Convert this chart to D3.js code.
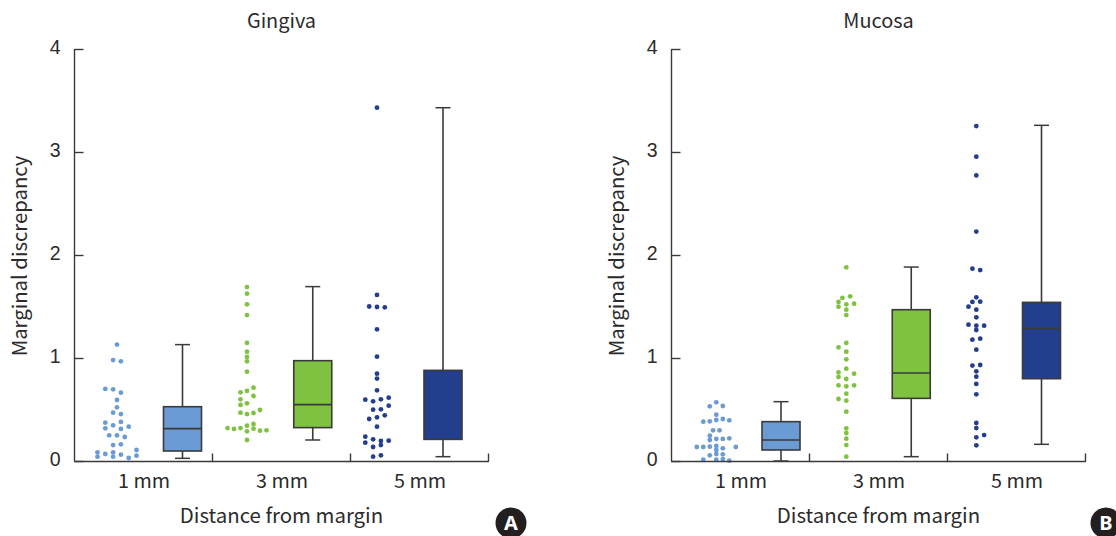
<!DOCTYPE html>
<html><head><meta charset="utf-8">
<script src="https://cdn.jsdelivr.net/npm/d3@7/dist/d3.min.js"></script>
<style>html,body{margin:0;padding:0;background:#fff}svg{display:block}</style>
</head><body><svg id="c" width="1116" height="536"></svg>
<script>
const categories = ["1 mm","3 mm","5 mm"];
const yTicks = [0,1,2,3,4];
const panelTitles = ["Gingiva","Mucosa"];
const panelLetters = ["A","B"];
const yLabel = "Marginal discrepancy";
const xLabel = "Distance from margin";
const colors = ["#6a9bd4","#7fc241","#243e8e"];

// [value, lane]; lanes are beeswarm columns in swarm units
const gingiva1 = [[1.13,0],[.98,-3],[.968,3],[.70,-9],[.696,-3],[.663,3],[.592,0],[.521,0],[.469,-3],[.456,3],[.372,-9],[.379,3],[.346,-3],[.333,9],[.317,-9],[.311,3],[.249,-6],[.249,0],[.233,6],[.155,-3],[.162,3],[.107,15],[.084,-15],[.068,-9],[.084,-3],[.061,3],[.052,15],[.042,-15],[.042,-3],[.029,9]];
const gingiva3 = [[1.689,0],[1.625,0],[1.521,0],[1.417,0],[1.146,0],[1.061,0],[1.01,0],[.968,0],[.867,0],[.712,5],[.68,0],[.667,-5],[.599,-5],[.631,5],[.544,-5],[.56,0],[.495,10],[.469,-5],[.456,0],[.466,5],[.32,-15],[.311,-10],[.32,-5],[.343,0],[.359,5],[.314,5],[.288,0],[.294,10],[.298,15],[.204,0]];
const gingiva5 = [[3.43,0],[1.612,0],[1.50,-6],[1.495,0],[1.492,6],[1.278,0],[1.013,0],[.848,0],[.80,0],[.686,0],[.595,-9],[.579,-3],[.599,3],[.615,9],[.537,9],[.498,-3],[.502,3],[.443,6],[.424,0],[.408,-6],[.333,0],[.236,-9],[.21,-3],[.194,3],[.197,9],[.178,-9],[.155,3],[.136,-3],[.055,3],[.042,-3]];
const mucosa1 = [[.57,0],[.531,-5],[.534,5],[.45,0],[.382,-10],[.385,-5],[.398,0],[.408,5],[.395,10],[.298,-2.5],[.298,2.5],[.246,-5],[.204,-5],[.214,0],[.214,5],[.22,10],[.136,-15],[.136,-10],[.139,-5],[.146,0],[.136,15],[.107,0],[.123,5],[.055,-5],[.068,0],[.065,5],[.013,-10],[.013,0],[.019,5],[.003,10]];
const mucosa3 = [[1.88,0],[1.599,3],[1.583,-3],[1.544,-6],[1.527,6],[1.521,0],[1.498,-6],[1.469,0],[1.417,0],[1.146,0],[1.104,-6],[1.061,0],[.987,0],[.896,0],[.861,-6],[.848,6],[.816,-6],[.796,0],[.735,-6],[.725,0],[.735,6],[.654,0],[.602,-6],[.586,0],[.479,0],[.317,0],[.272,0],[.217,0],[.155,0],[.042,0]];
const mucosa5 = [[3.252,0],[2.955,0],[2.773,0],[2.227,0],[1.867,-3],[1.854,3],[1.589,0],[1.544,-3],[1.547,3],[1.498,-6],[1.469,0],[1.395,0],[1.324,-6],[1.314,0],[1.314,6],[1.272,0],[1.178,-3],[1.188,3],[1.081,0],[.926,-3],[.932,3],[.871,0],[.819,0],[.748,0],[.647,0],[.369,0],[.32,0],[.252,6],[.23,0],[.152,0]];

// [low, q1, median, q3, high]; null median = no line visible in the source
const gingivaBoxes = [[.026,.097,.314,.527,1.13],[.204,.324,.547,.974,1.693],[.042,.21,null,.88,3.43]];
const mucosaBoxes = [[0,.107,.204,.382,.576],[.042,.608,.854,1.469,1.883],[.162,.799,1.288,1.54,3.259]];

const panels = [
 {title:0, dots:[gingiva1,gingiva3,gingiva5], boxes:gingivaBoxes, left:75, dotStart:42, boxStart:107.5},
 {title:1, dots:[mucosa1,mucosa3,mucosa5], boxes:mucosaBoxes, left:672, dotStart:44.3, boxStart:109}
];

const svg = d3.select("#c");
const y = d3.scaleLinear().domain([0,4]).range([461,49]);
const sans = "'Noto Sans CJK KR','Noto Sans',sans-serif";
const arial = "'Liberation Sans',Arial,sans-serif";
const ink = "#3a3a3a";
const textInk = "#2b2b2b";

panels.forEach((p,pi)=>{
  const g = svg.append("g");
  const L = p.left, R = L + 414;
  const xBand = d3.scaleBand().domain(categories).range([L,R]);
  const xDots = d3.scalePoint().domain(categories).range([L+p.dotStart, L+p.dotStart+260]);
  const xBox = d3.scalePoint().domain(categories).range([L+p.boxStart, L+p.boxStart+260.5]);
  const swarm = d3.scaleLinear().domain([0,1]).range([0,1.3]);

  // boxes
  p.boxes.forEach((b,i)=>{
    const cat = categories[i], cx = xBox(cat), hw = 19, cap = 7.5;
    const [lo,q1,med,q3,hi] = b;
    const bg = g.append("g");
    bg.append("line").attr("x1",cx).attr("x2",cx).attr("y1",y(hi)).attr("y2",y(lo)).attr("stroke",ink).attr("stroke-width",1.6);
    [hi,lo].forEach(v=>bg.append("line").attr("x1",cx-cap).attr("x2",cx+cap).attr("y1",y(v)).attr("y2",y(v)).attr("stroke",ink).attr("stroke-width",1.5));
    bg.append("rect").attr("x",cx-hw).attr("width",2*hw).attr("y",y(q3)).attr("height",y(q1)-y(q3)).attr("fill",colors[i]).attr("stroke",ink).attr("stroke-width",1.6);
    if(med!==null) bg.append("line").attr("x1",cx-hw).attr("x2",cx+hw).attr("y1",y(med)).attr("y2",y(med)).attr("stroke",ink).attr("stroke-width",1.6);
  });

  // dots
  p.dots.forEach((arr,i)=>{
    g.append("g").selectAll("circle").data(arr).join("circle")
      .attr("cx",d=>xDots(categories[i])+swarm(d[1]))
      .attr("cy",d=>y(d[0])).attr("r",2.4).attr("fill",colors[i]);
  });

  // axes
  const yAxis = d3.axisLeft(y).tickValues(yTicks).tickSize(-9).tickPadding(14).tickFormat(d3.format("d"));
  const ya = g.append("g").attr("transform",`translate(${L-0.5},0)`).call(yAxis);
  ya.select(".domain").attr("d",`M0,${y(4)}V${y(0)}`).attr("stroke",ink).attr("stroke-width",1.4);
  ya.selectAll(".tick line").attr("stroke",ink).attr("stroke-width",1.4);
  ya.selectAll("text").attr("font-family",arial).attr("font-size",19.5).attr("fill",textInk).attr("dy","0.22em");

  const xAxis = d3.axisBottom(xBand).tickSize(0).tickPadding(12);
  const xa = g.append("g").attr("transform",`translate(0,461.5)`).call(xAxis);
  xa.select(".domain").attr("d",`M${L-1},0H${R}`).attr("stroke",ink).attr("stroke-width",1.4);
  xa.selectAll("text").attr("font-family",sans).attr("font-size",19.8).attr("fill",textInk);
  const sep = [L+138,L+276,L+414];
  g.append("g").selectAll("line").data(sep).join("line")
    .attr("x1",d=>d-0.5).attr("x2",d=>d-0.5).attr("y1",453.5).attr("y2",461.5)
    .attr("stroke",ink).attr("stroke-width",1.4);

  // texts
  g.append("text").attr("x",L+206.5).attr("y",28).attr("text-anchor","middle").attr("font-family",sans).attr("font-size",19.9).attr("fill",textInk).text(panelTitles[p.title]);
  g.append("text").attr("x",L+206.5).attr("y",523).attr("text-anchor","middle").attr("font-family",sans).attr("font-size",20.4).attr("fill",textInk).text(xLabel);
  g.append("text").attr("transform",`translate(${L-48},256) rotate(-90)`).attr("text-anchor","middle").attr("font-family",sans).attr("font-size",20.3).attr("fill",textInk).text(yLabel);

  // badge
  const bx = pi===0 ? 511 : 1106;
  g.append("circle").attr("cx",bx).attr("cy",523).attr("r",15.5).attr("fill","#231f20");
  g.append("text").attr("x",bx).attr("y",530).attr("text-anchor","middle").attr("font-family","'Noto Sans',sans-serif").attr("font-weight",700).attr("font-size",20).attr("fill","#fff").text(panelLetters[pi]);
});
</script></body></html>
